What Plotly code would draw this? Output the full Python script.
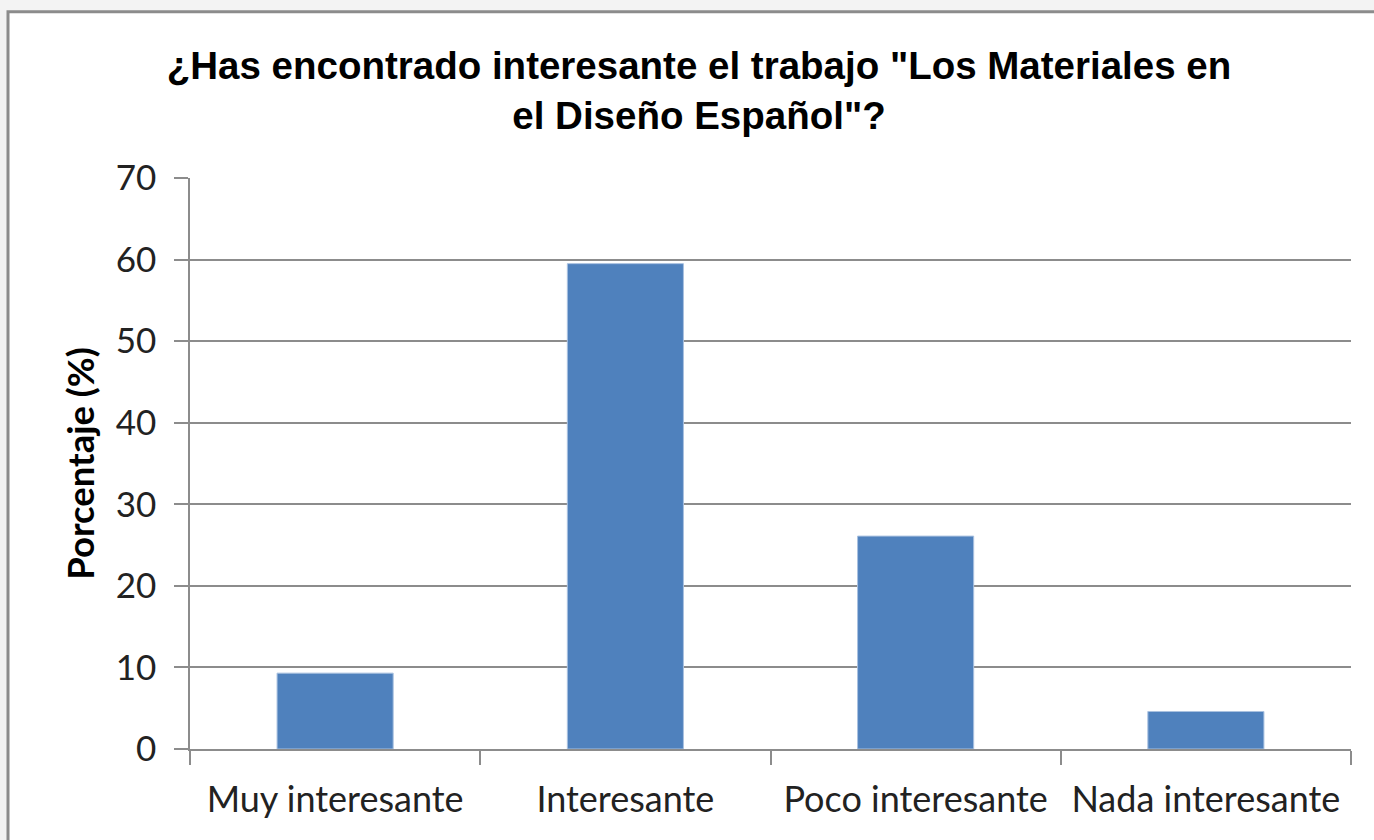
import plotly.graph_objects as go

categories = ["Muy interesante", "Interesante", "Poco interesante", "Nada interesante"]
values = [9.3, 59.5, 26.1, 4.6]
y_ticks = [0, 10, 20, 30, 40, 50, 60, 70]

W, H = 1374, 840
L, R, T, B = 190, 1351, 177.5, 749.3

def px_x(px):
    return (px - L) / (R - L)

def px_y(py):
    return (B - py) / (B - T)

fig = go.Figure()
fig.add_trace(go.Bar(
    x=categories, y=values,
    width=0.4,
    marker=dict(color="#4F81BD", line=dict(color="#a9c1e0", width=1)),
))

fig.add_shape(type="rect", xref="paper", yref="paper",
              x0=px_x(8), x1=px_x(1400), y0=px_y(870), y1=px_y(11),
              fillcolor="white", line=dict(color="#8c8c8c", width=3), layer="below")

fig.update_layout(
    width=W, height=H,
    margin=dict(l=L, r=W - R, t=T, b=H - B, pad=0),
    paper_bgcolor="#f3f3f3",
    plot_bgcolor="rgba(0,0,0,0)",
    showlegend=False,
    title=dict(
        text='¿Has encontrado interesante el trabajo "Los Materiales en<br>el Diseño Español"?',
        font=dict(family="Liberation Sans, Arial", size=38.5, color="black", weight="bold"),
        x=699 / W, xanchor="center", xref="container",
        y=1 - 79 / H, yanchor="top", yref="container",
    ),
    xaxis=dict(
        type="category", range=[-0.5, 3.5],
        showline=True, linecolor="#8c8c8c", linewidth=1.5,
        ticks="outside", tickson="boundaries", ticklen=14, tickcolor="#8c8c8c", tickwidth=1.5,
        ticklabelstandoff=18,
        tickfont=dict(family="Lato, Carlito, Calibri", size=36, color="#222222"),
        showgrid=False,
    ),
    yaxis=dict(
        range=[0, 70], tickvals=y_ticks,
        showline=True, linecolor="#8c8c8c", linewidth=1.5,
        ticks="outside", ticklen=14, tickcolor="#8c8c8c", tickwidth=1.5,
        ticklabelstandoff=11,
        tickfont=dict(family="Lato, Carlito, Calibri", size=35, color="#222222"),
        showgrid=True, gridcolor="#8c8c8c", gridwidth=1.5,
        zeroline=False,
        title=dict(text="Porcentaje (%)", standoff=10,
                   font=dict(family="Lato, Carlito, Calibri", size=36.5, color="black", weight="bold")),
    ),
    bargap=0.6,
)

fig.write_html("out.html", config={"displayModeBar": False},
               post_script="document.body.style.margin='0';document.body.style.background='#f3f3f3';")
